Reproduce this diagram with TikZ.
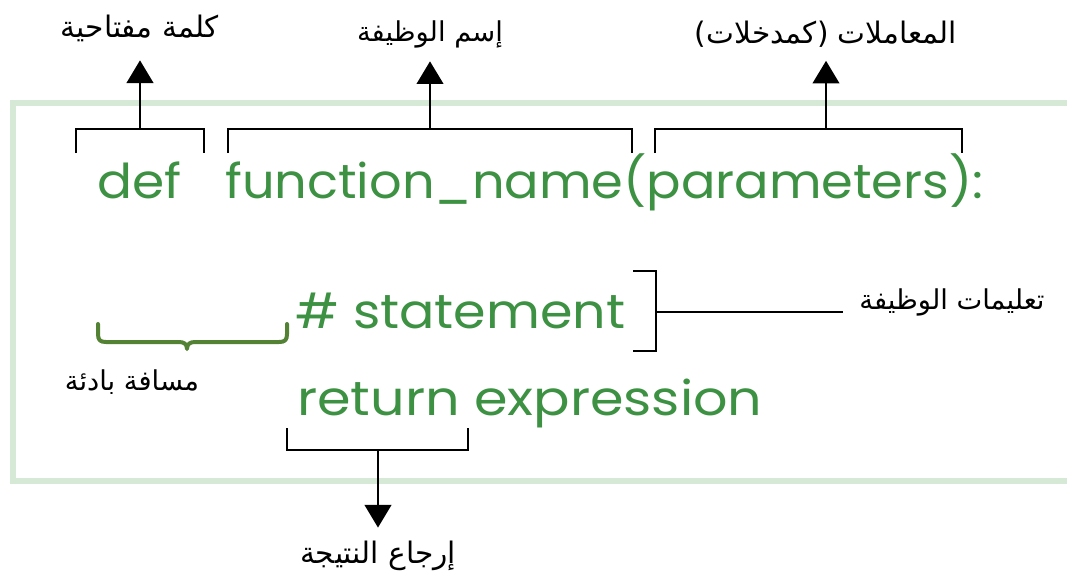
\documentclass[tikz,border=0pt]{standalone}
\usepackage{fontspec}
\usetikzlibrary{arrows.meta}
\newfontfamily\codefont{Poppins}
\newfontfamily\arabicfont[Script=Arabic]{DejaVu Sans}
\TeXXeTstate=1
\definecolor{codegreen}{RGB}{61,145,66}
\definecolor{framegreen}{RGB}{214,233,214}
\definecolor{bracegreen}{RGB}{84,130,53}
\tikzset{
  code/.style={anchor=base west, inner sep=0pt, text=codegreen, font=\codefont\fontsize{36}{40}\selectfont},
  label/.style={inner sep=0pt, font=\arabicfont\fontsize{20.5}{24}\selectfont},
  biglabel/.style={label, font=\arabicfont\fontsize{22.2}{26}\selectfont},
  bracket/.style={line width=2.2pt, black},
  pointer/.style={line width=1.6pt, black, -{Triangle[width=20pt,length=17pt]}},
  leader/.style={line width=1.4pt, black},
  indentbrace/.style={line width=3pt, bracegreen, line cap=round, line join=round}
}
\begin{document}
\begin{tikzpicture}[x=0.75pt, y=-0.75pt]
\useasboundingbox (0,0) rectangle (1067,586);
% frame around the function body (open on the right)
\draw[framegreen, line width=4pt] (1080,103) -- (13,103) -- (13,481) -- (1080,481);

% code lines
\node[code] (kw)   at (97,198)  {\scalebox{1.08}[1]{def}};
\node[code] (fn)   at (225,198) {\scalebox{1.063}[1]{function\_name(parameters):}};
\node[code] (stmt) at (295,328) {\scalebox{1.09}[1]{\# statement}};
\node[code] (ret)  at (297,415) {\scalebox{1.125}[1]{return expression}};

% labels
\node[biglabel] (lkw)   at (140,28)  {\beginR كلمة مفتاحية\endR};
\node[label]    (lfn)   at (430,34)  {\beginR إسم الوظيفة\endR};
\node[biglabel] (lpar)  at (826,34)  {\beginR المعاملات (كمدخلات)\endR};
\node[label]    (lstmt) at (952,302) {\beginR تعليمات الوظيفة\endR};
\node[label]    (lind)  at (132,382) {\beginR مسافة بادئة\endR};
\node[biglabel] (lret)  at (378,556) {\beginR إرجاع النتيجة\endR};

% bracket anchors
\coordinate (bkw)   at (140,129);
\coordinate (bfn)   at (430,129);
\coordinate (bpar)  at (826,129);
\coordinate (bstmt) at (656,312);
\coordinate (bret)  at (378,450);

% brackets
\draw[bracket] (76,153) -- (76,129) -- (204,129) -- (204,153);
\draw[bracket] (228,153) -- (228,129) -- (632,129) -- (632,153);
\draw[bracket] (655,153) -- (655,129) -- (962,129) -- (962,153);
\draw[bracket] (633,271) -- (656,271) -- (656,351) -- (633,351);
\draw[bracket] (287,428) -- (287,450) -- (468,450) -- (468,428);

% curly brace marking the indentation
\draw[indentbrace] (98,324) -- (98,334) .. controls (98,340) and (100,342) .. (106,342)
  -- (179,342) .. controls (184,342) and (187,344) .. (187,349)
  .. controls (187,344) and (190,342) .. (195,342)
  -- (279,342) .. controls (285,342) and (287,340) .. (287,334) -- (287,324);

% pointers
\draw[pointer] (bkw) -- ([yshift=-14pt]lkw.south);
\draw[pointer] (bfn) -- ([yshift=-10pt]lfn.south);
\draw[pointer] (bpar) -- ([yshift=-10pt]lpar.south);
\draw[pointer] (bret) -- ([yshift=10pt]lret.north);
\draw[leader] (bstmt) -- ([xshift=-12pt]lstmt.west |- bstmt);
\end{tikzpicture}
\end{document}
